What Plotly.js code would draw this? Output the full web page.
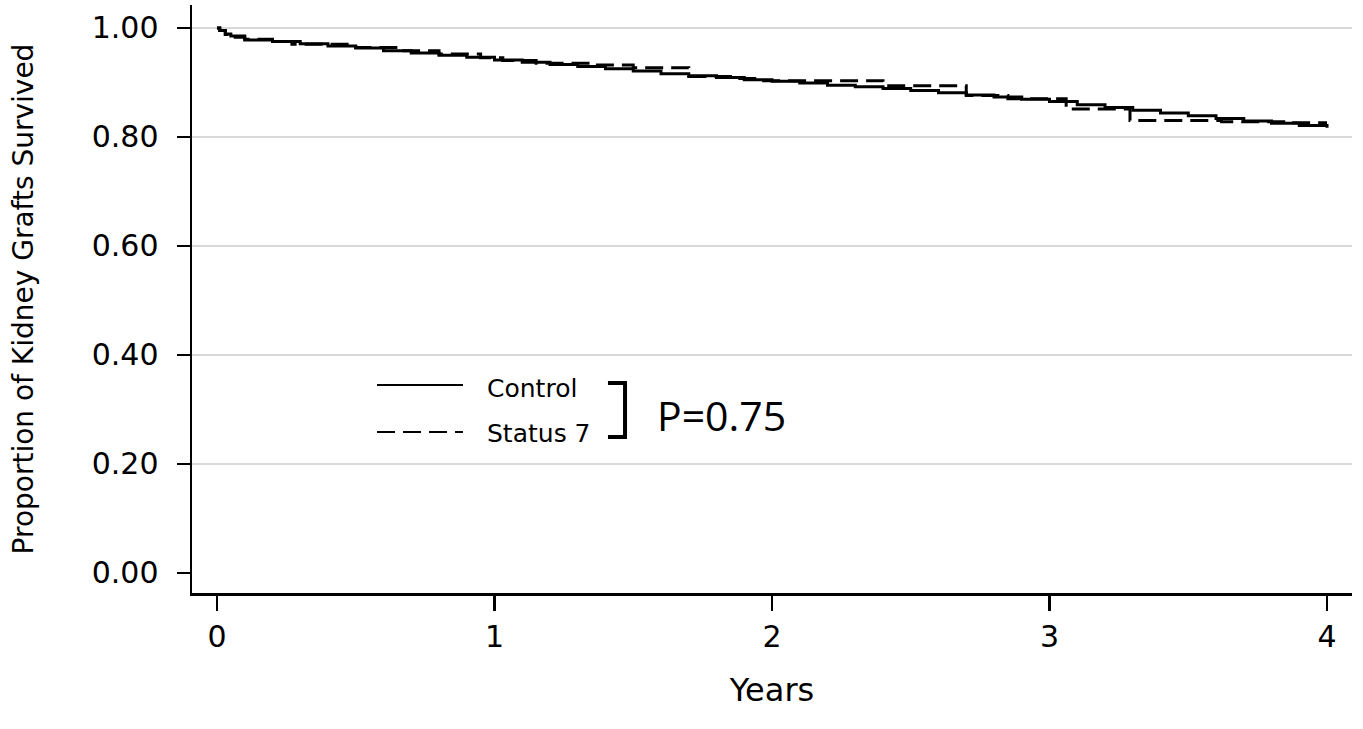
<!DOCTYPE html>
<html>
<head>
<meta charset="utf-8">
<script src="https://cdn.plot.ly/plotly-3.0.1.min.js"></script>
<style>html,body{margin:0;padding:0;background:#fff;}#chart{width:1363px;height:729px;}</style>
</head>
<body>
<div id="chart"></div>
<script>
// Control group (solid) Kaplan-Meier estimate
const controlYears = [0, 0.01, 0.03, 0.05, 0.1, 0.2, 0.3, 0.4, 0.5, 0.6, 0.7, 0.8, 0.9, 1.0, 1.1, 1.2, 1.3, 1.4, 1.5, 1.6, 1.7, 1.8, 1.9, 2.0, 2.1, 2.2, 2.3, 2.4, 2.5, 2.6, 2.7, 2.8, 2.9, 3.0, 3.1, 3.2, 3.3, 3.4, 3.5, 3.6, 3.7, 3.8, 3.9, 4.0];
const controlSurv  = [1.000, 0.995, 0.989, 0.985, 0.978, 0.975, 0.971, 0.967, 0.963, 0.958, 0.954, 0.950, 0.946, 0.941, 0.937, 0.933, 0.929, 0.925, 0.921, 0.916, 0.912, 0.909, 0.905, 0.902, 0.899, 0.895, 0.892, 0.889, 0.885, 0.881, 0.877, 0.873, 0.869, 0.865, 0.859, 0.854, 0.849, 0.844, 0.839, 0.834, 0.829, 0.825, 0.821, 0.817];
// Status 7 group (dashed)
const status7Years = [0, 0.01, 0.03, 0.06, 0.1, 0.2, 0.27, 0.5, 0.65, 0.8, 0.95, 1.03, 1.15, 1.35, 1.50, 1.70, 1.85, 1.95, 2.40, 2.70, 2.85, 3.06, 3.29, 3.62, 3.85, 4.0];
const status7Surv  = [1.000, 0.995, 0.988, 0.983, 0.979, 0.975, 0.970, 0.964, 0.958, 0.952, 0.945, 0.940, 0.935, 0.932, 0.927, 0.911, 0.907, 0.903, 0.894, 0.876, 0.870, 0.851, 0.830, 0.828, 0.826, 0.826];

const seriesNames = ["Control", "Status 7"];
const xTickVals = [0, 1, 2, 3, 4];
const xTickText = ["0", "1", "2", "3", "4"];
const yTickVals = [0, 0.2, 0.4, 0.6, 0.8, 1.0];
const yTickText = ["0.00", "0.20", "0.40", "0.60", "0.80", "1.00"];
const yGridVals = [0.2, 0.4, 0.6, 0.8, 1.0];
const pValueText = "P=0.75";

const axisFont = {family: "DejaVu Sans, Liberation Sans, Arial, sans-serif", size: 30, color: "#000"};

const traces = [
  {x: controlYears, y: controlSurv, name: seriesNames[0], type: "scatter", mode: "lines",
   line: {color: "#000", width: 3, shape: "hv"}, showlegend: false, hoverinfo: "skip"},
  {x: status7Years, y: status7Surv, name: seriesNames[1], type: "scatter", mode: "lines",
   line: {color: "#000", width: 3, shape: "hv", dash: "18px,8px"}, showlegend: false, hoverinfo: "skip"},
  {x: [], y: [], yaxis: "y2", type: "scatter", mode: "lines", showlegend: false, hoverinfo: "skip"}
];

const yRange = [-0.0367, 1.042];

const layout = {
  width: 1363, height: 729,
  margin: {l: 192, r: 11, t: 5, b: 136},
  paper_bgcolor: "#fff", plot_bgcolor: "#fff",
  showlegend: false,
  xaxis: {
    range: [-0.09, 4.09], tickvals: xTickVals, ticktext: xTickText,
    ticks: "outside", ticklen: 15, tickwidth: 2.5, tickcolor: "#000",
    showline: true, linewidth: 2.5, linecolor: "#000",
    showgrid: false, zeroline: false, tickfont: axisFont,
    title: {text: "Years", font: {family: axisFont.family, size: 32, color: "#000"}, standoff: 26}
  },
  yaxis: {
    range: yRange, tickvals: yTickVals, ticktext: yTickText,
    ticks: "outside", ticklen: 13, tickwidth: 2.5, tickcolor: "#000",
    showline: true, linewidth: 2.5, linecolor: "#000",
    showgrid: false, zeroline: false, tickfont: axisFont, ticklabelstandoff: 12,
    title: {text: "Proportion of Kidney Grafts Survived", font: {family: axisFont.family, size: 28, color: "#000"}, standoff: 50}
  },
  yaxis2: {
    overlaying: "y", anchor: "x", range: yRange, tickvals: yGridVals,
    showgrid: true, gridcolor: "#d9d9d9", gridwidth: 2,
    showticklabels: false, ticks: "", showline: false, zeroline: false
  },
  shapes: [
    {type: "line", xref: "paper", yref: "paper", x0: 0.1595, x1: 0.2336, y0: 0.3537, y1: 0.3537, line: {color: "#000", width: 2}},
    {type: "line", xref: "paper", yref: "paper", x0: 0.1595, x1: 0.2336, y0: 0.2738, y1: 0.2738, line: {color: "#000", width: 2, dash: "18px,8px"}},
    {type: "path", xref: "paper", yref: "paper", path: "M0.3586,0.3571 L0.3733,0.3571 L0.3733,0.2653 L0.3586,0.2653", line: {color: "#000", width: 4}}
  ],
  annotations: [
    {xref: "paper", yref: "paper", x: 0.2526, y: 0.3486, xanchor: "left", yanchor: "middle", showarrow: false,
     text: seriesNames[0], font: {family: axisFont.family, size: 25, color: "#000"}},
    {xref: "paper", yref: "paper", x: 0.2526, y: 0.2721, xanchor: "left", yanchor: "middle", showarrow: false,
     text: seriesNames[1], font: {family: axisFont.family, size: 25, color: "#000"}},
    {xref: "paper", yref: "paper", x: 0.399, y: 0.3027, xanchor: "left", yanchor: "middle", showarrow: false,
     text: pValueText, font: {family: "Open Sans, Noto Sans, sans-serif", size: 41, color: "#000"}}
  ]
};

Plotly.newPlot("chart", traces, layout, {staticPlot: true, displayModeBar: false});
</script>
</body>
</html>
